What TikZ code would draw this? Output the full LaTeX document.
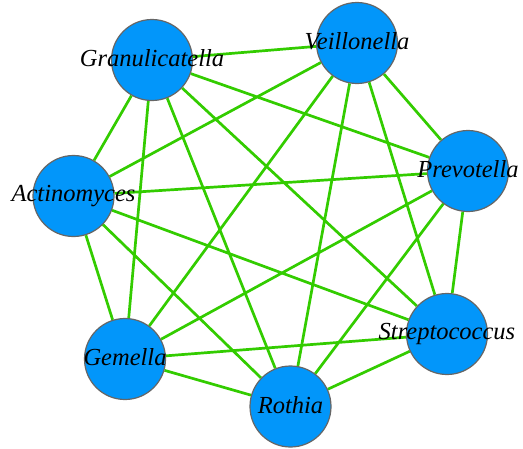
\documentclass[tikz,border=0pt]{standalone}
\usepackage{fontspec}
\setmainfont{Liberation Serif}
\usetikzlibrary{backgrounds}
\definecolor{taxonblue}{RGB}{2,150,250}
\definecolor{linkgreen}{RGB}{51,204,0}
\definecolor{rimgray}{RGB}{102,102,102}

\begin{document}
\begin{tikzpicture}[x=1pt,y=-1pt,
  taxon/.style={fill=taxonblue,draw=rimgray,line width=1.2pt,circle,minimum size=81pt,inner sep=0},
  every label/.style={font=\itshape\fontsize{24.5}{24.5}\selectfont,inner sep=0}]
        \useasboundingbox (0,0) rectangle (523,448);
        \node[taxon,label={[shift={(0,-2)}]center:Granulicatella}] (gra) at (152,60) {};
        \node[taxon,label={[shift={(0,-1.5)}]center:Veillonella}] (vei) at (357,43) {};
        \node[taxon,label={[shift={(0,-2)}]center:Prevotella}] (pre) at (468,171) {};
        \node[taxon,label={center:Actinomyces}] (act) at (73.5,196) {};
        \node[taxon,label={center:Streptococcus}] (str) at (447,334) {};
        \node[taxon,label={[shift={(0,-2)}]center:Gemella}] (gem) at (125,359) {};
        \node[taxon,label={[shift={(0,-1.5)}]center:Rothia}] (rot) at (290.5,406.5) {};
        \begin{scope}[on background layer]
        \draw[linkgreen,line width=2.7pt] (gra) -- (vei) (gra) -- (pre) (gra) -- (act) (gra) -- (str)
          (gra) -- (gem) (gra) -- (rot) (vei) -- (pre) (vei) -- (act) (vei) -- (str) (vei) -- (gem)
          (vei) -- (rot) (pre) -- (act) (pre) -- (str) (pre) -- (gem) (pre) -- (rot) (act) -- (str)
          (act) -- (gem) (act) -- (rot) (str) -- (gem) (str) -- (rot) (gem) -- (rot);
        \end{scope}
      \end{tikzpicture}
\end{document}
